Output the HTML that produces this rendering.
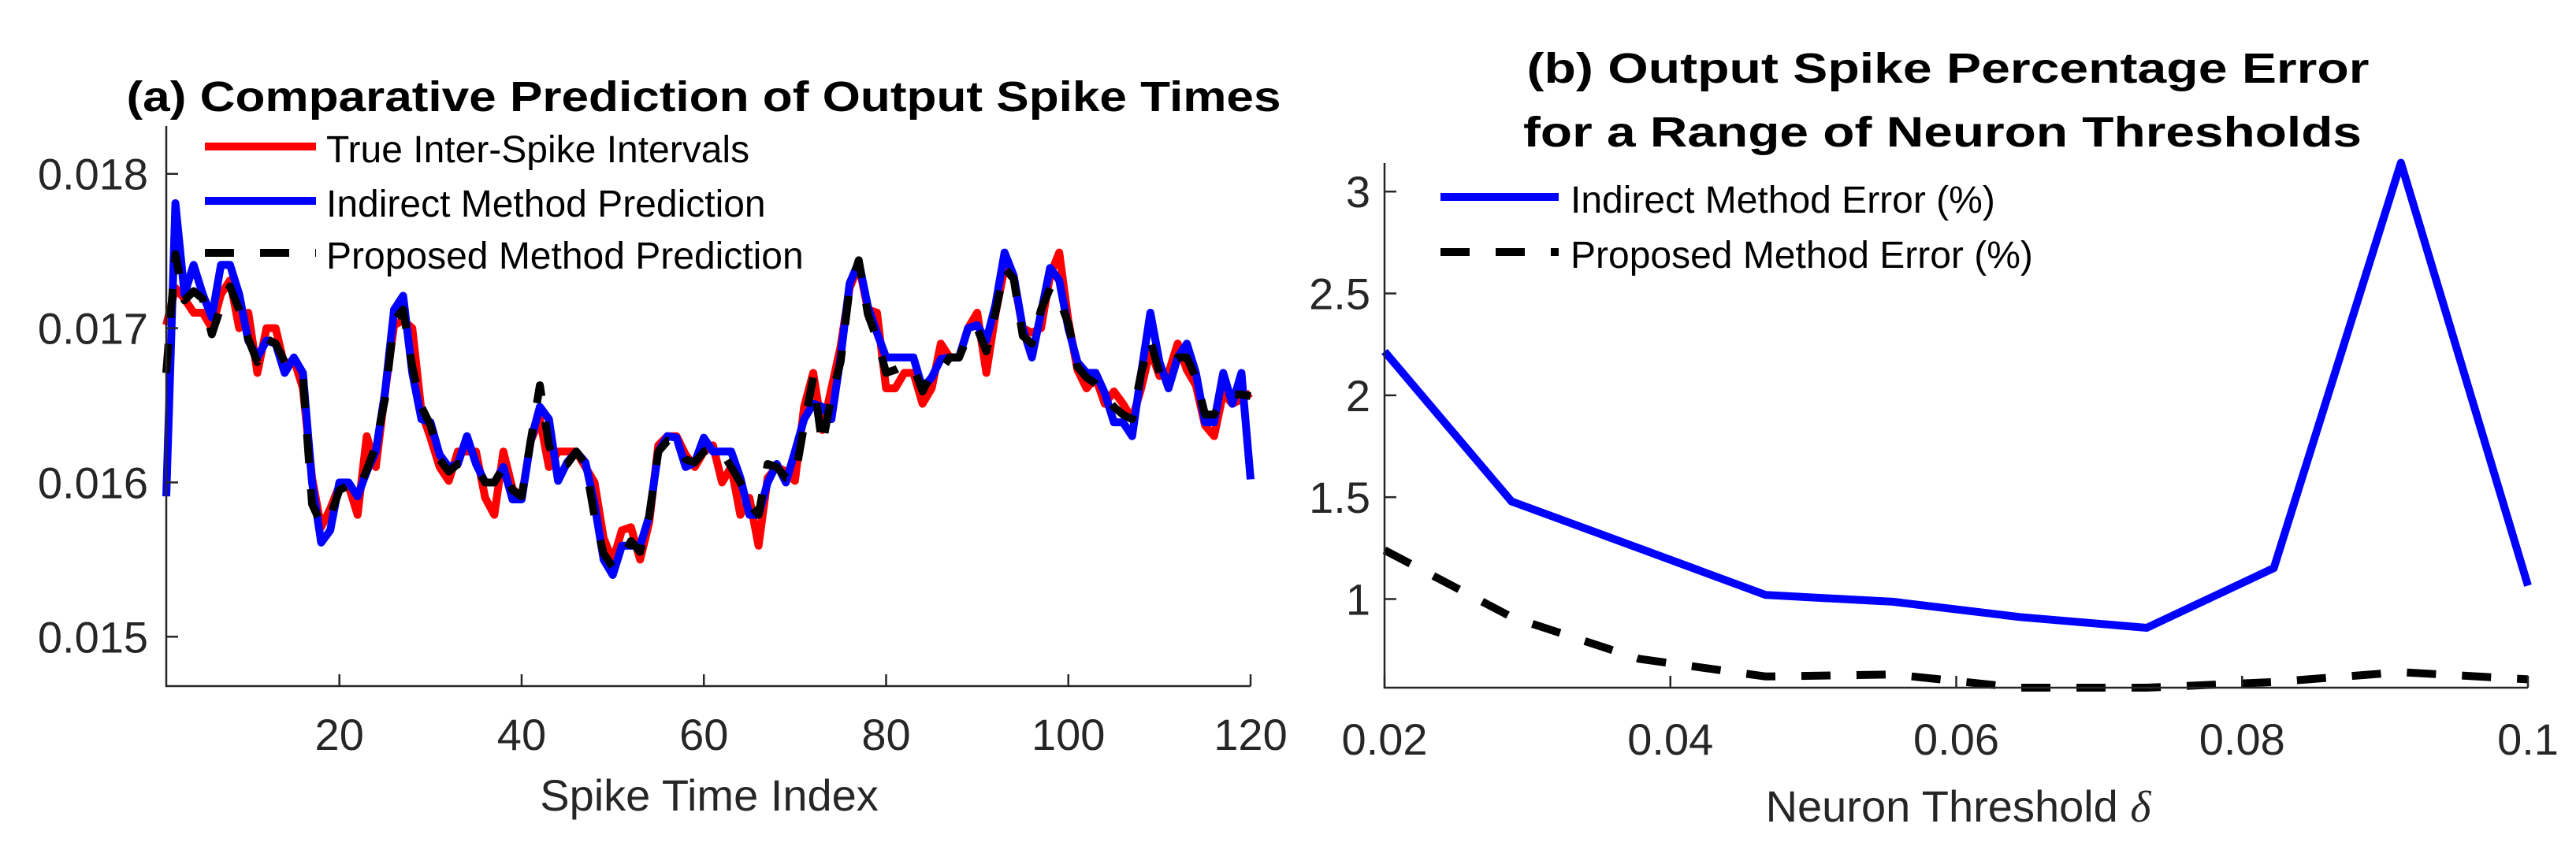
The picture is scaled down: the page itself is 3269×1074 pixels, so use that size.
<!DOCTYPE html>
<html><head><meta charset="utf-8"><style>
html,body{margin:0;padding:0;background:#fff;}
svg{display:block;font-family:"Liberation Sans",Arial,sans-serif;}
</style></head><body>
<svg id="fig" width="3269" height="1074" viewBox="0 0 3269 1074" xmlns="http://www.w3.org/2000/svg">
<g id="pa"></g>
<g id="pb"></g>
</svg>
<script>
// ---------- Panel (a) data ----------
const aTrue = [170.2,172.6,171.9,171.0,171.0,170.0,172.2,173.1,170.0,171.0,167.1,170.0,170.0,167.5,168.0,166.1,160.3,157.1,158.3,159.8,159.8,157.9,163.0,161.0,165.8,170.2,170.5,170.0,164.6,162.9,161.0,160.1,162.0,162.0,162.0,159.0,157.9,162.0,159.6,159.0,162.7,164.1,161.0,162.0,162.0,162.0,161.0,160.0,156.4,154.9,156.9,157.1,155.0,157.4,162.4,163.0,163.0,161.8,161.0,162.0,162.4,160.0,161.0,157.9,159.0,155.9,160.3,161.0,160.7,160.1,164.9,167.1,163.4,166.1,168.8,172.6,174.1,171.2,171.0,166.1,166.1,167.1,167.1,165.1,166.1,169.0,168.1,168.1,170.0,171.0,167.1,170.9,173.9,173.2,170.0,169.7,170.0,173.4,174.9,170.5,167.3,166.1,166.8,165.1,165.9,165.1,164.1,166.1,168.6,166.9,167.1,169.0,167.3,166.3,163.7,163.0,165.8,165.1,165.4,165.8];
const aIndirect = [159.1,178.1,172.2,174.1,172.2,170.7,174.1,174.1,172.2,169.2,168.1,169.2,169.0,167.1,168.1,167.1,160.0,156.1,156.9,160.0,160.0,159.1,160.7,162.0,165.8,171.2,172.1,167.1,164.1,163.9,161.8,161.0,161.2,163.0,161.2,160.0,160.0,161.0,158.9,158.9,162.7,164.9,164.1,160.1,161.3,162.0,161.3,158.6,155.0,154.0,155.9,155.9,155.9,157.8,162.0,163.0,162.9,161.0,161.3,162.9,162.0,162.0,162.0,160.3,157.9,157.9,160.0,161.2,160.0,162.0,164.1,165.1,164.9,164.1,168.1,172.9,174.3,171.4,169.7,168.1,168.1,168.1,168.1,166.1,166.8,168.0,168.1,168.1,170.0,170.2,169.2,171.5,174.9,173.4,170.0,168.1,171.0,173.9,173.1,170.0,167.8,167.1,167.1,165.8,163.9,163.9,163.0,167.1,171.0,167.8,166.1,168.1,169.0,167.1,163.9,163.9,167.1,165.1,167.1,160.2];
const aProposed = [167.1,174.8,171.8,172.4,171.9,169.6,171.4,172.7,171.2,169.3,167.8,169.3,169.0,167.8,167.5,166.8,158.6,157.3,157.8,159.5,159.8,159.5,160.8,162.4,165.4,170.5,171.2,167.5,164.9,163.7,161.5,160.7,161.2,161.2,161.0,160.0,160.0,161.0,159.5,159.1,162.7,166.3,162.4,161.0,161.2,162.0,161.2,157.8,155.4,154.5,155.0,156.2,155.5,157.8,162.0,162.7,162.7,161.5,161.3,162.0,162.2,162.0,161.0,160.0,158.6,157.9,161.2,161.0,160.3,160.3,163.7,166.8,162.4,165.6,167.8,172.6,174.4,170.9,169.3,167.1,167.3,167.6,167.5,165.9,167.1,167.3,168.1,168.1,169.5,170.0,168.5,171.0,173.9,173.2,169.5,169.0,171.2,172.6,171.9,170.3,167.5,166.8,166.4,165.6,164.9,164.4,164.1,167.1,169.2,167.1,167.1,168.1,168.1,166.8,164.4,164.4,165.4,165.7,165.7,165.6];
const aYTicks = [0.015,0.016,0.017,0.018];
const aYTickLabels = ["0.015","0.016","0.017","0.018"];
const aXTicks = [20,40,60,80,100,120];
const aXTickLabels = ["20","40","60","80","100","120"];
const aXDomain = [1,120];
const aYDomain = [0.01468,0.01831];

// ---------- Panel (b) data ----------
const bThresholds = [0.02,0.02889,0.03778,0.04667,0.05556,0.06444,0.07333,0.08222,0.09111,0.1];
const bIndirect = [2.215,1.479,1.25,1.02,0.987,0.912,0.859,1.152,3.141,1.066];
const bProposed = [1.24,0.912,0.707,0.62,0.63,0.565,0.565,0.593,0.641,0.606];
const bYTicks = [1,1.5,2,2.5,3];
const bYTickLabels = ["1","1.5","2","2.5","3"];
const bXTicks = [0.02,0.04,0.06,0.08,0.1];
const bXTickLabels = ["0.02","0.04","0.06","0.08","0.1"];
const bXDomain = [0.02,0.1];
const bYDomain = [0.565,3.14];

const NS = "http://www.w3.org/2000/svg";
const DASH = "37 33";
function mk(parent, tag, attrs, text){
  const e = document.createElementNS(NS, tag);
  for (const k in attrs) e.setAttribute(k, attrs[k]);
  if (text !== undefined) e.textContent = text;
  parent.appendChild(e);
  return e;
}
function scale(d, r){ return v => r[0] + (v - d[0]) / (d[1] - d[0]) * (r[1] - r[0]); }
const AX = "#262626";

// ===== Panel a =====
(function(){
  const g = document.getElementById('pa');
  const L=211, R=1587, T=160, B=871;
  const x = scale(aXDomain,[L,R]);
  const y = scale(aYDomain,[B,T]);
  const v = a => a.map(q => q/10000);
  let e;
  e = mk(g,'text',{x:893,y:141,'text-anchor':'middle','font-size':54,'font-weight':'bold',fill:'#000',textLength:1465,lengthAdjust:'spacingAndGlyphs'},'(a) Comparative Prediction of Output Spike Times');
  
  
  const series = [[v(aTrue),'#ff0000',null,'true-isi-line'],[v(aIndirect),'#0000ff',null,'indirect-prediction-line'],[v(aProposed),'#000000',DASH,'proposed-prediction-line']];
  series.forEach(s=>{
    const pts = s[0].map((val,i)=>x(i+1).toFixed(1)+','+y(val).toFixed(1)).join(' ');
    const p = mk(g,'polyline',{points:pts,fill:'none',stroke:s[1],'stroke-width':10,'stroke-linejoin':'round'});
    if (s[2]) p.setAttribute('stroke-dasharray',s[2]);
    
    
  });
  e = mk(g,'path',{d:`M${L},${T}V${B}H${R}`,fill:'none',stroke:AX,'stroke-width':2.5});
  
  
  aYTicks.forEach((t,i)=>{
    const yy=y(t);
    const tk = mk(g,'line',{x1:L,x2:L+15,y1:yy,y2:yy,stroke:AX,'stroke-width':2.5});
    
    
    const lb = mk(g,'text',{x:188,y:yy+20,'text-anchor':'end','font-size':56,fill:AX},aYTickLabels[i]);
    
    
  });
  aXTicks.forEach((t,i)=>{
    const xx=x(t);
    const tk = mk(g,'line',{x1:xx,x2:xx,y1:B,y2:B-15,stroke:AX,'stroke-width':2.5});
    
    
    const lb = mk(g,'text',{x:xx,y:952,'text-anchor':'middle','font-size':56,fill:AX},aXTickLabels[i]);
    
    
  });
  e = mk(g,'text',{x:900,y:1029,'text-anchor':'middle','font-size':56,fill:AX},'Spike Time Index');
  
  
  const leg = [['#ff0000',null,186,206,'True Inter-Spike Intervals'],['#0000ff',null,255,275,'Indirect Method Prediction'],['#000000',DASH,321,341,'Proposed Method Prediction']];
  leg.forEach(l=>{
    const ln = mk(g,'line',{x1:260,x2:401,y1:l[2],y2:l[2],stroke:l[0],'stroke-width':10});
    if (l[1]) ln.setAttribute('stroke-dasharray',l[1]);
    
    
    const t = mk(g,'text',{x:414,y:l[3],'font-size':48,fill:'#000'},l[4]);
    
    
  });
})();

// ===== Panel b =====
(function(){
  const g = document.getElementById('pb');
  const L=1757, R=3208, T=207, B=873;
  const x = scale(bXDomain,[L,R]);
  const y = scale(bYDomain,[B,T]);
  let e;
  e = mk(g,'text',{x:2472,y:105,'text-anchor':'middle','font-size':54,'font-weight':'bold',fill:'#000',textLength:1069,lengthAdjust:'spacingAndGlyphs'},'(b) Output Spike Percentage Error');
  
  
  e = mk(g,'text',{x:2465,y:186,'text-anchor':'middle','font-size':54,'font-weight':'bold',fill:'#000',textLength:1064,lengthAdjust:'spacingAndGlyphs'},'for a Range of Neuron Thresholds');
  
  
  const series = [[bIndirect,'#0000ff',null,'indirect-error-line'],[bProposed,'#000000',DASH,'proposed-error-line']];
  series.forEach(s=>{
    const pts = s[0].map((val,i)=>x(bThresholds[i]).toFixed(1)+','+y(val).toFixed(1)).join(' ');
    const p = mk(g,'polyline',{points:pts,fill:'none',stroke:s[1],'stroke-width':10,'stroke-linejoin':'round'});
    if (s[2]) p.setAttribute('stroke-dasharray',s[2]);
    
    
  });
  e = mk(g,'path',{d:`M${L},${T}V${B}H${R}`,fill:'none',stroke:AX,'stroke-width':2.5});
  
  
  bYTicks.forEach((t,i)=>{
    const yy=y(t);
    const tk = mk(g,'line',{x1:L,x2:L+15,y1:yy,y2:yy,stroke:AX,'stroke-width':2.5});
    
    
    const lb = mk(g,'text',{x:1739,y:yy+20,'text-anchor':'end','font-size':56,fill:AX},bYTickLabels[i]);
    
    
  });
  bXTicks.forEach((t,i)=>{
    const xx=x(t);
    const tk = mk(g,'line',{x1:xx,x2:xx,y1:B,y2:B-15,stroke:AX,'stroke-width':2.5});
    
    
    const lb = mk(g,'text',{x:xx,y:958,'text-anchor':'middle','font-size':56,fill:AX},bXTickLabels[i]);
    
    
  });
  e = mk(g,'text',{x:2485,y:1043,'text-anchor':'middle','font-size':56,fill:AX});
  
  
  mk(e,'tspan',{},'Neuron Threshold ');
  mk(e,'tspan',{'font-style':'italic','font-family':'"Liberation Serif",serif'},'δ');
  const leg = [['#0000ff',null,250,270,'Indirect Method Error (%)'],['#000000',DASH,320,340,'Proposed Method Error (%)']];
  leg.forEach(l=>{
    const ln = mk(g,'line',{x1:1828,x2:1978,y1:l[2],y2:l[2],stroke:l[0],'stroke-width':10});
    if (l[1]) ln.setAttribute('stroke-dasharray',l[1]);
    
    
    const t = mk(g,'text',{x:1993,y:l[3],'font-size':48,fill:'#000'},l[4]);
    
    
  });
})();
</script>
</body></html>
